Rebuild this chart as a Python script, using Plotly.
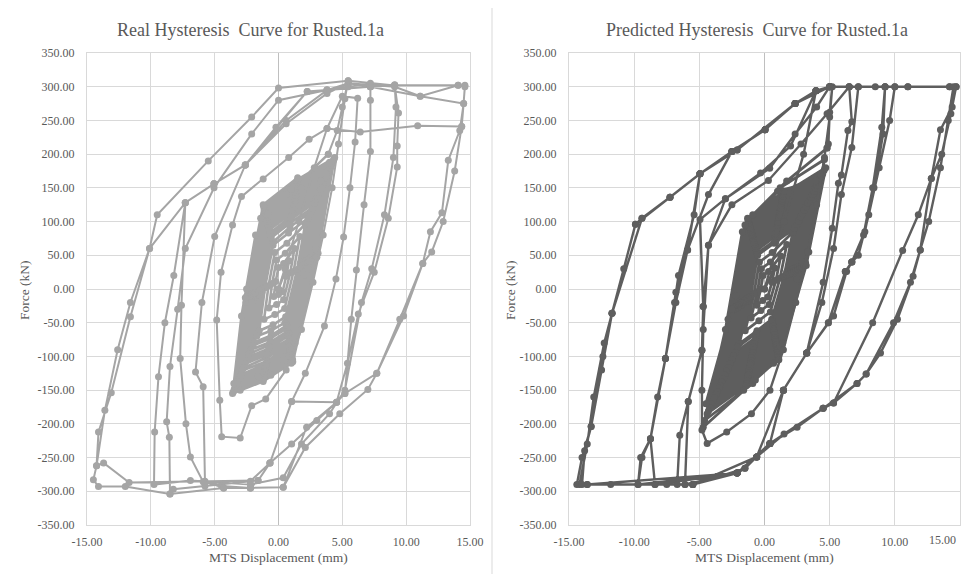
import plotly.graph_objects as go

# ---------------- data (MTS displacement mm, force kN) ----------------
real_small_cycles = [
    (0.0, 0),
    (0.83, 42), (0.6, 19), (0.32, -4), (0.0, -8), (-0.37, -11), (-0.22, 11), (0.0, 32), (0.4, 38),
    (1.25, 60), (0.92, 24), (0.4, -16), (-0.15, -23), (-0.75, -28), (-0.5, 8), (-0.15, 43), (0.53, 53),
    (1.67, 78), (1.18, 26), (0.48, -29), (-0.29, -38), (-1.13, -45), (-0.78, 5), (-0.29, 54), (0.66, 68),
    (2.09, 96), (1.46, 29), (0.56, -41), (-0.43, -53), (-1.51, -62), (-1.06, 2), (-0.43, 65), (0.79, 83),
    (2.3, 105), (1.7, 38), (0.5, -50), (-0.6, -62), (-1.7, -70), (-1.3, -5), (-0.4, 70), (0.9, 92),
    (2.51, 114), (1.74, 33), (0.64, -54), (-0.57, -69), (-1.89, -79), (-1.34, 0), (-0.57, 76), (0.92, 98),
    (2.65, 120), (1.9, 40), (0.7, -58), (-0.7, -74), (-2.0, -84), (-1.5, -8), (-0.6, 80), (1.0, 104),
    (2.8, 127), (1.94, 35), (0.7, -63), (-0.67, -79), (-2.16, -90), (-1.54, -2), (-0.67, 83), (1.01, 108),
    (2.95, 133), (2.15, 42), (0.8, -66), (-0.8, -84), (-2.3, -96), (-1.7, -10), (-0.7, 88), (1.1, 114),
    (3.06, 137), (2.1, 37), (0.74, -70), (-0.75, -88), (-2.38, -101), (-1.7, -4), (-0.75, 90), (1.08, 117),
    (3.2, 143), (2.35, 44), (0.85, -74), (-0.85, -93), (-2.5, -106), (-1.85, -12), (-0.8, 94), (1.2, 122),
    (3.31, 148), (2.27, 39), (0.79, -78), (-0.84, -97), (-2.61, -111), (-1.87, -6), (-0.84, 96), (1.16, 126),
    (3.45, 154), (2.5, 46), (0.9, -81), (-0.95, -102), (-2.75, -117), (-2.0, -14), (-0.9, 100), (1.3, 131),
    (3.56, 159), (2.44, 41), (0.84, -85), (-0.92, -107), (-2.84, -121), (-2.04, -7), (-0.92, 103), (1.24, 135),
    (3.7, 164), (2.7, 48), (0.95, -88), (-1.0, -111), (-2.95, -127), (-2.15, -16), (-0.95, 106), (1.35, 139),
    (3.77, 168), (2.58, 42), (0.88, -91), (-0.99, -114), (-3.03, -130), (-2.18, -9), (-0.99, 109), (1.31, 143),
    (3.9, 173), (2.85, 49), (1.0, -94), (-1.05, -118), (-3.15, -135), (-2.3, -17), (-1.0, 111), (1.4, 146),
    (3.98, 177), (2.72, 44), (0.92, -98), (-1.06, -122), (-3.22, -138), (-2.32, -10), (-1.06, 114), (1.37, 150),
    (4.05, 180), (2.95, 50), (1.05, -99), (-1.1, -124), (-3.3, -142), (-2.4, -18), (-1.05, 116), (1.45, 152),
    (4.15, 184), (2.83, 45), (0.95, -103), (-1.12, -128), (-3.37, -145), (-2.43, -11), (-1.12, 118), (1.42, 156),
    (4.2, 187), (3.05, 52), (1.1, -104), (-1.15, -130), (-3.45, -148), (-2.5, -19), (-1.1, 120), (1.5, 158),
    (4.27, 190), (2.92, 46), (0.98, -106), (-1.16, -132), (-3.49, -150), (-2.52, -12), (-1.16, 122), (1.46, 161),
    (4.35, 193), (3.1, 53), (1.12, -108), (-1.2, -135), (-3.55, -153), (-2.55, -20), (-1.15, 124), (1.55, 163),
    (4.4, 195), (3.0, 47), (1.0, -110), (-1.2, -137), (-3.6, -155), (-2.6, -13), (-1.2, 125), (1.5, 165),
    (3.7, 172), (2.3, 30), (0.6, -100), (-1.4, -125), (-3.2, -142), (-2.1, -20), (-0.8, 112), (1.8, 150),
    (4.0, 188), (2.9, 60), (1.3, -80), (-0.6, -128), (-3.0, -150), (-2.5, 0), (-1.4, 105), (1.0, 148),
    (3.3, 160), (2.0, 20), (0.4, -105), (-1.6, -130), (-3.5, -140), (-2.9, -40), (-1.8, 80), (0.6, 140),
    (3.9, 200),
]

real_large_cycles = [
    (4.6, 235), (5.0, 270), (5.46, 309), (5.2, 282), (4.7, 215), (4.2, 150), (3.5, 80), (2.7, 10),
    (1.8, -60), (0.6, -120), (-1.0, -163), (-2.1, -173), (-3.0, -221), (-4.45, -219), (-4.6, -165),
    (-4.84, -46), (-4.5, 25), (-3.6, 95), (-2.9, 137), (-1.2, 163), (0.8, 195), (2.4, 222), (3.8, 238),
    (5.0, 286), (6.2, 283), (6.0, 218), (5.6, 150), (5.1, 77), (4.5, 15), (3.6, -55), (2.1, -125),
    (1.03, -167), (-0.67, -258), (-1.6, -284), (-2.2, -295), (-4.3, -295), (-5.76, -285), (-5.9, -145),
    (-6.5, -123), (-6.0, -20), (-5.0, 78), (-2.6, 184), (-0.2, 240), (2.25, 293), (3.8, 295),
    (5.46, 300), (7.2, 305), (7.2, 280), (7.2, 204), (6.7, 125), (6.1, 28), (5.7, -45), (5.2, -155),
    (4.55, -168), (2.2, -205), (0.37, -294), (-2.2, -295), (-4.45, -292), (-5.9, -286), (-6.9, -249),
    (-7.25, -200), (-7.7, -103), (-7.6, -24), (-7.3, 128), (-5.05, 156), (-2.6, 184), (0.6, 245),
    (3.8, 290), (5.46, 305),
    (7.2, 300), (9.1, 302), (9.4, 261), (9.3, 212), (9.3, 181), (8.6, 105), (7.5, 25), (6.25, -37),
    (5.4, -110), (4.55, -168), (3.0, -195), (1.03, -230), (-0.67, -258), (-2.2, -285), (-5.76, -292),
    (-8.24, -297), (-8.5, -304), (-8.55, -220), (-8.76, -197), (-8.5, -115), (-7.9, -30), (-7.3, 60),
    (-5.05, 150), (-2.1, 230), (0.0, 280), (3.8, 295), (7.2, 300), (9.1, 303),
    (9.2, 270), (9.0, 195), (8.3, 110), (7.3, 30), (6.5, -20), (5.2, -150), (4.0, -185), (1.8, -230),
    (0.37, -280), (-2.2, -290), (-6.9, -284), (-9.75, -290), (-9.7, -212), (-9.4, -130), (-8.9, -50),
    (-8.2, 20), (-7.3, 128), (-5.05, 156), (-2.6, 184), (0.6, 250), (3.8, 295), (5.46, 305), (9.1, 300),
    (11.1, 286), (14.07, 302), (14.6, 302), (14.5, 275), (14.2, 235), (13.3, 191), (12.8, 113),
    (11.9, 85), (11.3, 38), (9.8, -40), (7.7, -125), (7.0, -149), (4.8, -185), (2.1, -235),
    (0.37, -294), (-2.2, -295), (-4.3, -295), (-8.5, -304), (-12.0, -293), (-14.1, -293),
    (-14.5, -283), (-14.25, -262), (-14.1, -212), (-13.1, -154), (-11.6, -41), (-10.1, 60),
    (-9.5, 110), (-5.5, 190), (-2.1, 255), (0.0, 298), (5.46, 309), (9.1, 302), (14.07, 302),
    (14.6, 300), (14.35, 241), (13.8, 175), (12.9, 100), (12.0, 55), (11.3, 38), (9.5, -45),
    (7.7, -125), (5.2, -155), (4.55, -168), (1.03, -167), (-0.67, -258), (-1.6, -284), (-11.7, -287),
    (-13.7, -258), (-14.25, -262), (-13.6, -180), (-12.6, -90), (-11.6, -20), (-10.1, 60), (-7.3, 128),
    (-5.05, 156), (-2.6, 184), (2.25, 293), (7.2, 300), (11.1, 286), (14.5, 275),
    (14.35, 241), (10.9, 242), (6.4, 233), (3.8, 238), (2.8, 180), (1.6, 100), (0.5, 30), (0.0, 0),
]

pred_small_cycles = [
    (0.0, 0),
    (0.79, 31), (0.57, 10), (0.25, -12), (-0.13, -17), (-0.58, -24), (-0.29, 0), (-0.11, 20), (0.31, 26),
    (1.25, 49), (0.88, 13), (0.35, -23), (-0.28, -32), (-1.03, -43), (-0.55, -4), (-0.25, 30), (0.45, 40),
    (1.71, 66), (1.19, 16), (0.45, -34), (-0.43, -47), (-1.48, -62), (-0.81, -7), (-0.39, 40), (0.59, 54),
    (2.17, 84), (1.5, 19), (0.55, -45), (-0.58, -62), (-1.93, -81), (-1.07, -11), (-0.53, 50), (0.73, 68),
    (2.3, 90), (1.7, 25), (0.6, -48), (-0.65, -66), (-2.05, -86), (-1.2, -16), (-0.55, 53), (0.8, 72),
    (2.49, 96), (1.71, 21), (0.62, -52), (-0.68, -72), (-2.24, -94), (-1.25, -13), (-0.63, 57), (0.83, 78),
    (2.63, 101), (1.85, 27), (0.66, -55), (-0.72, -76), (-2.38, -99), (-1.33, -18), (-0.67, 60), (0.87, 82),
    (2.77, 107), (1.9, 22), (0.68, -59), (-0.77, -81), (-2.51, -105), (-1.41, -15), (-0.71, 63), (0.91, 86),
    (2.9, 112), (2.05, 28), (0.72, -62), (-0.82, -86), (-2.65, -111), (-1.5, -20), (-0.75, 66), (0.95, 90),
    (3.04, 117), (2.08, 24), (0.74, -65), (-0.86, -90), (-2.78, -117), (-1.56, -17), (-0.8, 69), (1.0, 95),
    (3.18, 122), (2.22, 30), (0.78, -68), (-0.9, -94), (-2.92, -122), (-1.65, -22), (-0.84, 72), (1.04, 99),
    (3.32, 128), (2.27, 26), (0.8, -72), (-0.95, -99), (-3.05, -128), (-1.72, -20), (-0.88, 75), (1.08, 103),
    (3.44, 132), (2.4, 32), (0.82, -75), (-0.99, -102), (-3.17, -133), (-1.8, -24), (-0.92, 78), (1.12, 106),
    (3.55, 136), (2.43, 28), (0.85, -78), (-1.03, -106), (-3.28, -138), (-1.85, -21), (-0.95, 80), (1.15, 110),
    (3.66, 140), (2.55, 33), (0.88, -80), (-1.06, -110), (-3.4, -143), (-1.93, -25), (-0.98, 82), (1.18, 114),
    (3.78, 145), (2.58, 29), (0.9, -83), (-1.1, -113), (-3.5, -147), (-1.98, -23), (-1.02, 85), (1.22, 117),
    (3.9, 150), (2.7, 35), (0.92, -86), (-1.14, -117), (-3.62, -152), (-2.05, -27), (-1.05, 88), (1.26, 120),
    (4.01, 154), (2.74, 31), (0.95, -89), (-1.18, -121), (-3.73, -157), (-2.11, -25), (-1.09, 90), (1.29, 124),
    (4.12, 158), (2.85, 36), (0.98, -91), (-1.22, -124), (-3.84, -161), (-2.18, -28), (-1.12, 92), (1.32, 128),
    (4.24, 163), (2.89, 32), (1.0, -94), (-1.25, -128), (-3.95, -166), (-2.24, -27), (-1.16, 95), (1.36, 131),
    (4.36, 167), (3.0, 38), (1.02, -97), (-1.3, -132), (-4.06, -171), (-2.3, -30), (-1.2, 98), (1.4, 134),
    (4.47, 171), (3.05, 34), (1.05, -100), (-1.33, -136), (-4.18, -176), (-2.37, -28), (-1.23, 100), (1.43, 138),
    (4.58, 176), (3.15, 39), (1.08, -102), (-1.36, -140), (-4.3, -181), (-2.44, -31), (-1.26, 102), (1.46, 141),
    (4.7, 180), (3.2, 35), (1.1, -105), (-1.4, -143), (-4.4, -185), (-2.5, -30), (-1.3, 105), (1.5, 145),
    (4.3, 170), (2.9, 40), (1.2, -85), (-0.9, -140), (-4.6, -195), (-2.8, -45), (-1.5, 95), (1.2, 150),
    (4.6, 192), (3.4, 55), (1.4, -80), (-0.7, -135), (-4.7, -205), (-3.0, -60), (-1.7, 85), (1.0, 145),
    (3.9, 160), (2.5, 15), (0.7, -110), (-1.6, -150), (-4.5, -170), (-2.2, -10), (-0.9, 110), (1.7, 160),
    (4.8, 209),
]

pred_large_cycles = [
    (4.9, 215), (5.0, 262), (5.2, 300), (5.0, 255), (4.6, 195), (4.0, 125), (3.3, 55), (2.4, -20),
    (1.45, -90), (0.42, -150), (-1.0, -185), (-2.9, -212), (-4.4, -229), (-4.8, -209), (-4.8, -150),
    (-4.7, -60), (-4.3, 65), (-3.0, 134), (-0.3, 172), (2.0, 212), (3.95, 294), (5.0, 300),
    (6.5, 300), (6.7, 248), (6.4, 235), (5.9, 169), (5.67, 157), (5.2, 90), (4.5, 10), (3.24, -95),
    (1.45, -150), (0.42, -229), (-0.6, -249), (-2.1, -273), (-5.5, -290), (-6.1, -290), (-5.85, -167),
    (-4.8, -91), (-4.7, -26), (-4.95, 103), (-3.0, 134), (0.4, 179), (2.35, 230), (4.0, 270), (5.0, 300),
    (6.5, 300),
    (7.2, 300), (6.7, 210), (5.9, 140), (5.3, 60), (4.4, -20), (3.24, -95), (1.45, -150), (0.42, -229),
    (-1.5, -266), (-5.5, -290), (-6.7, -290), (-6.5, -217), (-5.85, -167), (-4.8, -91), (-4.7, -26),
    (-4.3, 65), (-2.5, 125), (0.3, 161), (2.8, 215), (4.8, 260), (6.5, 300), (7.2, 300),
    (8.5, 300), (9.25, 300), (10.0, 300), (9.6, 250), (8.8, 180), (8.0, 110), (7.2, 50), (6.7, 40),
    (6.3, 26), (5.3, -40), (3.24, -95), (1.45, -150), (0.42, -229), (-0.6, -249), (-2.1, -273),
    (-6.1, -290), (-7.5, -290), (-8.4, -290), (-8.75, -222), (-7.6, -103), (-6.8, -20), (-5.9, 58),
    (-4.3, 140), (-2.5, 204), (0.04, 236), (2.35, 275), (3.95, 294), (5.0, 300), (9.25, 300),
    (9.0, 240), (8.3, 150), (7.6, 80), (6.7, 40), (6.2, 26), (4.9, -50), (3.24, -95), (1.45, -150),
    (0.42, -229), (-2.1, -273), (-8.4, -290), (-9.7, -290), (-9.4, -250), (-8.75, -222), (-8.2, -160),
    (-7.6, -103), (-6.9, -20), (-6.6, 20), (-5.4, 110), (-4.95, 171), (-2.5, 204), (0.04, 236),
    (2.35, 275), (3.95, 294), (5.0, 300), (9.25, 300),
    (9.1, 230), (8.4, 150), (7.7, 85), (6.7, 40), (6.2, 26), (4.9, -50), (3.24, -95), (1.45, -150),
    (-0.6, -249), (-2.1, -273), (-9.7, -290), (-9.5, -250), (-8.75, -222), (-7.6, -103), (-6.8, -5),
    (-5.9, 58), (-4.95, 171), (-2.1, 206), (2.35, 275), (5.0, 300), (10.0, 300),
    (11.0, 300), (14.2, 300), (14.7, 300), (14.4, 270), (13.5, 236), (12.8, 164), (11.95, 58),
    (11.4, 19), (10.2, -45), (8.9, -95), (7.8, -126), (7.1, -140), (5.3, -169), (4.5, -177),
    (2.5, -205), (0.42, -229), (-0.6, -249), (-1.5, -266), (-2.1, -273), (-5.5, -290), (-11.8, -290),
    (-13.6, -290), (-14.4, -290), (-14.0, -250), (-13.3, -204), (-12.5, -120), (-11.7, -36),
    (-10.8, 30), (-9.9, 96), (-9.4, 105), (-7.25, 136), (-4.95, 171), (-2.5, 204), (0.04, 236),
    (2.35, 275), (3.95, 294), (5.0, 300), (11.0, 300), (14.2, 300),
    (14.7, 300), (14.3, 260), (13.6, 200), (12.8, 164), (11.8, 110), (10.6, 57), (8.3, -50),
    (5.3, -169), (4.5, -177), (0.42, -229), (-2.1, -273), (-13.6, -290), (-14.2, -290), (-13.6, -230),
    (-13.1, -160), (-12.3, -80), (-11.7, -36), (-9.4, 105), (-7.25, 136), (-4.95, 171), (-2.1, 206),
    (2.35, 275), (5.0, 300), (14.5, 300),
    (14.1, 250), (13.5, 180), (12.6, 100), (11.95, 58), (11.2, 10), (9.9, -50), (7.8, -126),
    (7.1, -140), (4.5, -177), (1.5, -215), (-0.6, -249), (-5.5, -290), (-14.0, -290), (-13.8, -240),
    (-13.3, -204), (-12.4, -100), (-11.7, -36), (-9.9, 96), (-7.25, 136), (-4.95, 171), (-2.5, 204),
    (0.04, 236), (2.35, 275), (3.95, 294), (3.0, 200), (1.5, 100), (0.0, 0),
]

x_ticks = [-15, -10, -5, 0, 5, 10, 15]
y_ticks = [-350, -300, -250, -200, -150, -100, -50, 0, 50, 100, 150, 200, 250, 300, 350]

titles = ["Real Hysteresis  Curve for Rusted.1a", "Predicted Hysteresis  Curve for Rusted.1a"]
x_title = "MTS Displacement (mm)"
y_title = "Force (kN)"

# ---------------- build ----------------
# The page body has an 8px margin, so the figure is made 8px smaller and every
# screen position below is expressed relative to the figure origin (screen - 8).
OFF = 8
W, H = 970 - OFF, 574 - OFF

def px(v):
    return (v - OFF) / W

def py(v):
    return 1 - (v - OFF) / H

REAL_C = "#a5a5a5"
PRED_C = "#5e5e5e"
TXT = "#595959"
GRID = "#d9d9d9"
FONT = "Liberation Serif, Times New Roman, serif"

def xy(points):
    return [p[0] for p in points], [p[1] for p in points]

fig = go.Figure()
series = [
    (real_small_cycles, REAL_C, 2.6, "x", "y"),
    ([real_small_cycles[-1]] + real_large_cycles, REAL_C, 2.0, "x", "y"),
    (pred_small_cycles, PRED_C, 2.8, "x2", "y2"),
    ([pred_small_cycles[-1]] + pred_large_cycles, PRED_C, 2.4, "x2", "y2"),
]
for pts, col, lw, xa, ya in series:
    xs, ys = xy(pts)
    fig.add_trace(go.Scatter(x=xs, y=ys, mode="lines+markers",
                             line=dict(color=col, width=lw),
                             marker=dict(size=7, color=col),
                             xaxis=xa, yaxis=ya, showlegend=False, hoverinfo="x+y"))

x_labels = [f"{v:.2f}" for v in x_ticks]
# right panel: last label would run past the window edge, drawn as an annotation instead
x_labels_right = x_labels[:-1] + [""]

def xax(dom, anchor, labels):
    return dict(domain=dom, anchor=anchor, range=[-15, 15], tickvals=x_ticks,
                ticktext=labels, automargin=False,
                showgrid=True, gridcolor=GRID, gridwidth=1,
                zeroline=True, zerolinecolor="#bfbfbf", zerolinewidth=1,
                showline=True, linecolor=GRID, linewidth=1, mirror=True,
                ticks="", ticklabelstandoff=6,
                tickfont=dict(family=FONT, size=12, color=TXT))

def yax(anchor):
    return dict(domain=[py(525), py(53)], anchor=anchor, range=[-350, 350],
                tickvals=y_ticks, ticktext=[f"{v:.2f}" for v in y_ticks], automargin=False,
                showgrid=True, gridcolor=GRID,
                gridwidth=1, zeroline=False, showline=True, linecolor=GRID,
                linewidth=1, mirror=True, ticks="", ticklabelstandoff=9,
                tickfont=dict(family=FONT, size=12, color=TXT))

fig.update_layout(
    width=W, height=H, margin=dict(l=0, r=0, t=0, b=0, autoexpand=False),
    paper_bgcolor="white", plot_bgcolor="white", showlegend=False,
    xaxis=xax([px(87), px(470)], "y", x_labels), yaxis=yax("x"),
    xaxis2=xax([px(569), px(960)], "y2", x_labels_right), yaxis2=yax("x2"),
)

ann = []
for cx, t in [(250, titles[0]), (757, titles[1])]:
    ann.append(dict(x=px(cx), y=py(30), xref="paper", yref="paper", text=t,
                    showarrow=False, xanchor="center", yanchor="middle",
                    font=dict(family=FONT, size=18, color=TXT)))
for cx in [278.5, 764]:
    ann.append(dict(x=px(cx), y=py(557), xref="paper", yref="paper", text=x_title,
                    showarrow=False, xanchor="center", yanchor="middle",
                    font=dict(family=FONT, size=13.5, color=TXT)))
for cx in [24, 510]:
    ann.append(dict(x=px(cx), y=py(290), xref="paper", yref="paper", text=y_title,
                    showarrow=False, xanchor="center", yanchor="middle", textangle=-90,
                    font=dict(family=FONT, size=13.5, color=TXT)))
ann.append(dict(x=px(957), y=py(540), xref="paper", yref="paper", text=x_labels[-1],
                showarrow=False, xanchor="right", yanchor="middle", borderpad=0,
                font=dict(family=FONT, size=12, color=TXT)))
fig.update_layout(annotations=ann)

BORDER = "#d9d9d9"
lw1 = dict(color=BORDER, width=1)
shapes = [
    dict(type="line", xref="paper", yref="paper", x0=px(7), x1=px(7), y0=0, y1=py(7), line=lw1),
    dict(type="line", xref="paper", yref="paper", x0=px(7), x1=px(460), y0=py(7), y1=py(7), line=lw1),
    dict(type="line", xref="paper", yref="paper", x0=px(492), x1=px(492), y0=0, y1=py(7), line=lw1),
    dict(type="line", xref="paper", yref="paper", x0=px(492), x1=1, y0=py(7), y1=py(7), line=lw1),
]
fig.update_layout(shapes=shapes)

fig.write_html("out.html")
